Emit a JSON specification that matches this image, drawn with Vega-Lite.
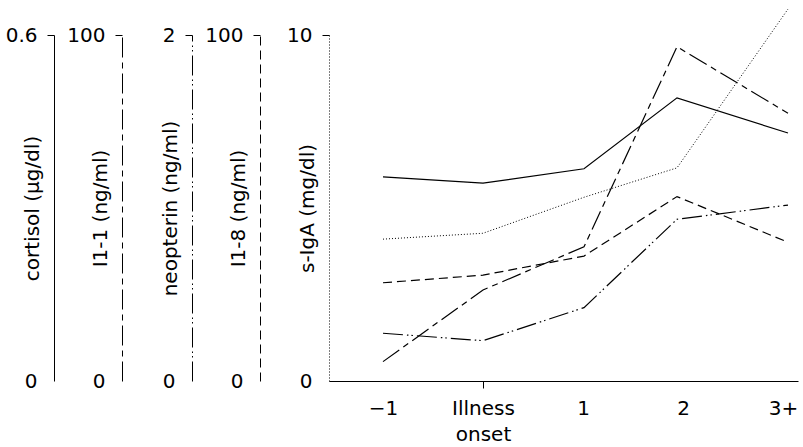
{
  "$schema": "https://vega.github.io/schema/vega-lite/v6.json",
  "width": 469,
  "height": 346,
  "autosize": {"type": "none"},
  "padding": {"left": 329, "top": 35, "right": 5, "bottom": 66},
  "background": "white",
  "config": {
    "view": {"stroke": null},
    "font": "DejaVu Sans",
    "axis": {
      "labelFont": "DejaVu Sans", "labelFontSize": 20, "labelColor": "black",
      "titleFont": "DejaVu Sans", "titleFontSize": 20, "titleFontWeight": "normal", "titleColor": "black",
      "domainColor": "black", "domainWidth": 1, "tickWidth": 1, "grid": false, "ticks": true
    }
  },
  "data": {"values": [
    {"time": -1, "measure": "cortisol", "value": 0.354},
    {"time": 0, "measure": "cortisol", "value": 0.343},
    {"time": 1.01, "measure": "cortisol", "value": 0.368},
    {"time": 1.94, "measure": "cortisol", "value": 0.491},
    {"time": 3.05, "measure": "cortisol", "value": 0.430},
    {"time": -1, "measure": "Il-1", "value": 5.6},
    {"time": 0, "measure": "Il-1", "value": 26.3},
    {"time": 1.01, "measure": "Il-1", "value": 38.8},
    {"time": 1.94, "measure": "Il-1", "value": 96.6},
    {"time": 3.05, "measure": "Il-1", "value": 77.4},
    {"time": -1, "measure": "neopterin", "value": 0.276},
    {"time": 0, "measure": "neopterin", "value": 0.233},
    {"time": 1.01, "measure": "neopterin", "value": 0.424},
    {"time": 1.94, "measure": "neopterin", "value": 0.935},
    {"time": 3.05, "measure": "neopterin", "value": 1.017},
    {"time": -1, "measure": "Il-8", "value": 28.4},
    {"time": 0, "measure": "Il-8", "value": 30.6},
    {"time": 1.01, "measure": "Il-8", "value": 36.1},
    {"time": 1.94, "measure": "Il-8", "value": 53.3},
    {"time": 3.05, "measure": "Il-8", "value": 40.1},
    {"time": -1, "measure": "s-IgA", "value": 4.10},
    {"time": 0, "measure": "s-IgA", "value": 4.27},
    {"time": 1.01, "measure": "s-IgA", "value": 5.31},
    {"time": 1.94, "measure": "s-IgA", "value": 6.16},
    {"time": 3.05, "measure": "s-IgA", "value": 10.75}
  ]},
  "encoding": {
    "x": {
      "field": "time", "type": "quantitative",
      "scale": {"domain": [-1.54, 3.15], "nice": false, "zero": false},
      "axis": {
        "title": null, "values": [-1, 0, 1, 2, 3],
        "labelExpr": "datum.value == 0 ? ['Illness', 'onset'] : datum.value == -1 ? '−1' : datum.value == 3 ? '3+' : datum.label",
        "tickSize": 7, "labelPadding": 10, "labelLineHeight": 26,
        "labelFlush": false, "labelOverlap": false, "labelBaseline": "top",
        "tickColor": {"condition": {"test": "datum.value == 0", "value": "black"}, "value": "transparent"}
      }
    }
  },
  "layer": [
    {
      "transform": [{"filter": "datum.measure === 'cortisol'"}],
      "mark": {"type": "line", "color": "black", "strokeWidth": 1.2, "clip": false},
      "encoding": {"y": {"field": "value", "type": "quantitative",
        "scale": {"domain": [0, 0.6], "nice": false},
        "axis": {"orient": "left", "offset": 275, "values": [0, 0.6], "labelExpr": "datum.value == 0 ? '0' : '0.6'", "tickSize": 7, "labelPadding": 10,
          "tickColor": {"condition": {"test": "datum.value == 0", "value": "transparent"}, "value": "black"},
          "title": "cortisol (µg/dl)", "titleX": -16, "titleY": 173, "titleAngle": 270, "titleAlign": "center", "titleBaseline": "alphabetic"}}}
    },
    {
      "transform": [{"filter": "datum.measure === 'Il-1'"}],
      "mark": {"type": "line", "color": "black", "strokeWidth": 1.2, "strokeDash": [20, 5, 6, 5], "clip": false},
      "encoding": {"y": {"field": "value", "type": "quantitative",
        "scale": {"domain": [0, 100], "nice": false},
        "axis": {"orient": "left", "offset": 207, "values": [0, 100], "labelExpr": "datum.value == 0 ? '0' : '100'", "tickSize": 7, "labelPadding": 10,
          "domainDash": [20, 5, 6, 5],
          "tickColor": {"condition": {"test": "datum.value == 0", "value": "transparent"}, "value": "black"},
          "title": "I1-1 (ng/ml)", "titleX": -16, "titleY": 173, "titleAngle": 270, "titleAlign": "center", "titleBaseline": "alphabetic"}}}
    },
    {
      "transform": [{"filter": "datum.measure === 'neopterin'"}],
      "mark": {"type": "line", "color": "black", "strokeWidth": 1.2, "strokeDash": [20, 4, 1.5, 3, 1.5, 4], "clip": false},
      "encoding": {"y": {"field": "value", "type": "quantitative",
        "scale": {"domain": [0, 2], "nice": false},
        "axis": {"orient": "left", "offset": 137, "values": [0, 2], "labelExpr": "datum.value == 0 ? '0' : '2'", "tickSize": 7, "labelPadding": 10,
          "domainDash": [20, 4, 1.5, 3, 1.5, 4],
          "tickColor": {"condition": {"test": "datum.value == 0", "value": "transparent"}, "value": "black"},
          "title": "neopterin (ng/ml)", "titleX": -16, "titleY": 173, "titleAngle": 270, "titleAlign": "center", "titleBaseline": "alphabetic"}}}
    },
    {
      "transform": [{"filter": "datum.measure === 'Il-8'"}],
      "mark": {"type": "line", "color": "black", "strokeWidth": 1.2, "strokeDash": [9, 5], "clip": false},
      "encoding": {"y": {"field": "value", "type": "quantitative",
        "scale": {"domain": [0, 100], "nice": false},
        "axis": {"orient": "left", "offset": 69, "values": [0, 100], "labelExpr": "datum.value == 0 ? '0' : '100'", "tickSize": 7, "labelPadding": 10,
          "domainDash": [9, 5],
          "tickColor": {"condition": {"test": "datum.value == 0", "value": "transparent"}, "value": "black"},
          "title": "I1-8 (ng/ml)", "titleX": -16, "titleY": 173, "titleAngle": 270, "titleAlign": "center", "titleBaseline": "alphabetic"}}}
    },
    {
      "transform": [{"filter": "datum.measure === 's-IgA'"}],
      "mark": {"type": "line", "color": "black", "strokeWidth": 1, "strokeDash": [1, 2], "clip": false},
      "encoding": {"y": {"field": "value", "type": "quantitative",
        "scale": {"domain": [0, 10], "nice": false},
        "axis": {"orient": "left", "offset": 0, "values": [0, 10], "labelExpr": "datum.value == 0 ? '0' : '10'", "tickSize": 7, "labelPadding": 10,
          "domainDash": [1, 2],
          "tickColor": {"condition": {"test": "datum.value == 0", "value": "transparent"}, "value": "black"},
          "title": "s-IgA (mg/dl)", "titleX": -16, "titleY": 173, "titleAngle": 270, "titleAlign": "center", "titleBaseline": "alphabetic"}}}
    }
  ],
  "resolve": {"scale": {"y": "independent"}, "axis": {"y": "independent"}}
}
